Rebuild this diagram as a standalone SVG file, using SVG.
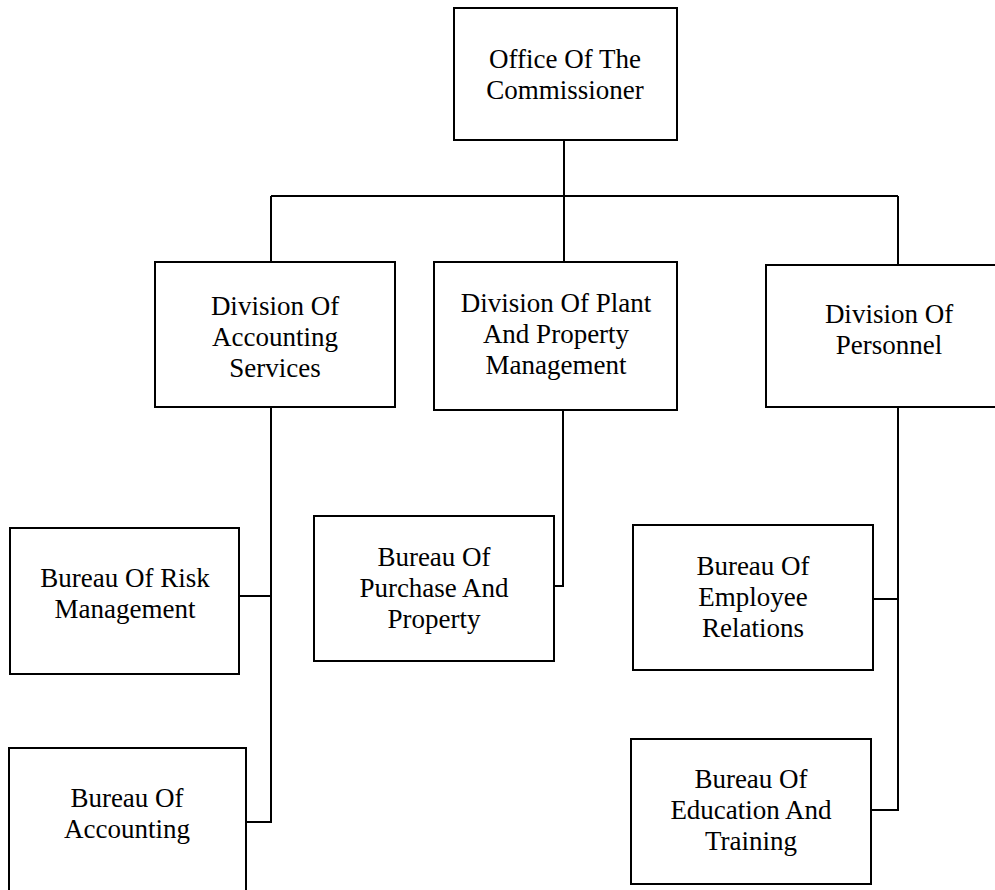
<svg xmlns="http://www.w3.org/2000/svg" width="995" height="890" viewBox="0 0 995 890">
<style>
rect{fill:#fff;stroke:#000;stroke-width:2}
.c{fill:none;stroke:#000;stroke-width:2}
text{font-family:"Liberation Serif","Times New Roman",serif;font-size:27px;fill:#000;text-anchor:middle}
</style>
<rect x="0" y="0" width="995" height="890" style="stroke:none"/>
<g id="connectors">
<path class="c" d="M564 140V196M271 196H898M271 196V262M564 196V262M898 196V265"/>
<path class="c" d="M271 407V822H246M239 596H271"/>
<path class="c" d="M563 410V586H554"/>
<path class="c" d="M898 407V810H871M873 599H898"/>
</g>
<g id="office"><rect x="454" y="8" width="223" height="132"/><text x="565" y="68">Office Of The</text><text x="565" y="99">Commissioner</text></g>
<g id="div-accounting"><rect x="155" y="262" width="240" height="145"/><text x="275" y="315">Division Of</text><text x="275" y="346">Accounting</text><text x="275" y="377">Services</text></g>
<g id="div-plant"><rect x="434" y="262" width="243" height="148"/><text x="556" y="312">Division Of Plant</text><text x="556" y="343">And Property</text><text x="556" y="374">Management</text></g>
<g id="div-personnel"><rect x="766" y="265" width="240" height="142"/><text x="889" y="323">Division Of</text><text x="889" y="354">Personnel</text></g>
<g id="bureau-risk"><rect x="10" y="528" width="229" height="146"/><text x="125" y="587">Bureau Of Risk</text><text x="125" y="618">Management</text></g>
<g id="bureau-purchase"><rect x="314" y="516" width="240" height="145"/><text x="434" y="566">Bureau Of</text><text x="434" y="597">Purchase And</text><text x="434" y="628">Property</text></g>
<g id="bureau-employee"><rect x="633" y="525" width="240" height="145"/><text x="753" y="575">Bureau Of</text><text x="753" y="606">Employee</text><text x="753" y="637">Relations</text></g>
<g id="bureau-education"><rect x="631" y="739" width="240" height="145"/><text x="751" y="788">Bureau Of</text><text x="751" y="819">Education And</text><text x="751" y="850">Training</text></g>
<g id="bureau-accounting"><rect x="9" y="748" width="237" height="150"/><text x="127" y="807">Bureau Of</text><text x="127" y="838">Accounting</text></g>
</svg>
